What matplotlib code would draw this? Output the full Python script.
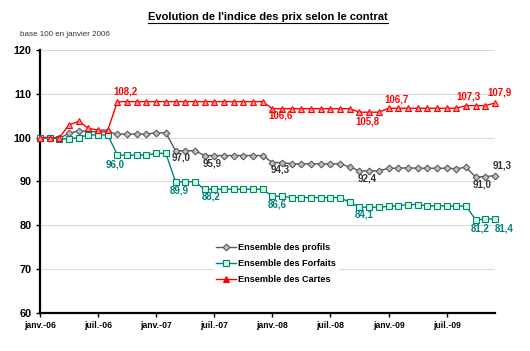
import matplotlib
matplotlib.use("Agg")
import matplotlib.pyplot as plt
from matplotlib.lines import Line2D
import numpy as np

plt.rcParams['font.family'] = ['Liberation Sans', 'DejaVu Sans']

# ---------------- data ----------------
tick_labels = ['janv.-06', 'juil.-06', 'janv.-07', 'juil.-07',
               'janv.-08', 'juil.-08', 'janv.-09', 'juil.-09']

profils = [100.0, 100.0, 99.8, 101.0, 101.5, 101.4, 101.3, 101.3,
           100.8, 100.8, 100.8, 100.8, 101.1, 101.1,
           97.0, 97.0, 97.0,
           95.9, 95.9, 95.9, 95.9, 95.9, 95.9, 95.9,
           94.3, 94.3,
           94.0, 94.0, 94.0, 94.0, 94.0, 94.0,
           93.3,
           92.4, 92.4, 92.4,
           93.0, 93.0, 93.1, 93.0, 93.0, 93.0, 93.0, 92.9, 93.2,
           91.0, 91.1, 91.3]

forfaits = [100.0, 100.0, 99.7, 99.7, 100.0, 100.6, 100.6, 100.6,
            96.0, 96.0, 96.0, 96.0, 96.4, 96.4,
            89.9, 89.9, 89.9,
            88.2, 88.2, 88.2, 88.2, 88.2, 88.2, 88.2,
            86.6, 86.6,
            86.3, 86.3, 86.3, 86.3, 86.3, 86.3,
            85.2,
            84.1, 84.1, 84.1,
            84.3, 84.4, 84.7, 84.7, 84.4, 84.4, 84.4, 84.3, 84.4,
            81.2, 81.4, 81.4]

cartes = [100.0, 100.0, 100.0, 102.9, 103.7, 102.1, 101.7, 101.7,
          108.2, 108.2, 108.2, 108.2, 108.2, 108.2, 108.2, 108.2,
          108.2, 108.2, 108.2, 108.2, 108.2, 108.2, 108.2, 108.2,
          106.6, 106.6, 106.6, 106.6, 106.6, 106.6, 106.6, 106.6, 106.6,
          105.8, 105.8, 105.8,
          106.7, 106.7, 106.7, 106.7, 106.7, 106.7, 106.7, 106.7,
          107.3, 107.3, 107.3,
          107.9]

series_names = ['Ensemble des profils', 'Ensemble des Forfaits', 'Ensemble des Cartes']

# labelled points: (series index, month index)
labelled = [(2, 8), (2, 24), (2, 33), (2, 36), (2, 44), (2, 47),
            (0, 14), (0, 17), (0, 24), (0, 33), (0, 45), (0, 47),
            (1, 8), (1, 14), (1, 17), (1, 24), (1, 33), (1, 45), (1, 47)]

# ---------------- styles ----------------
line_cols = ['#595959', '#008080', '#ff0000']
face_cols = ['#c0c0c0', '#ccffcc', '#ff9999']
markers = ['D', 's', '^']
msizes = [3.4, 4.8, 4.8]
label_cols = ['#333333', '#008080', '#ff0000']
# label offsets in pixels (dx, dy)
offsets = {(2, 8): (8, 10), (2, 24): (8, -7), (2, 33): (8, -9), (2, 36): (8, 9),
           (2, 44): (3, 9), (2, 47): (5, 10),
           (0, 14): (6, -7), (0, 17): (8, -8), (0, 24): (8, -7), (0, 33): (8, -8),
           (0, 45): (6, -8), (0, 47): (7, 10),
           (1, 8): (-2, -9), (1, 14): (4, -9), (1, 17): (7, -7), (1, 24): (5, -8),
           (1, 33): (5, -7), (1, 45): (5, -9), (1, 47): (9, -9)}

fig = plt.figure(figsize=(5.30, 3.51), dpi=100)
ax = fig.add_axes([40 / 530, 1 - 312.7 / 351, 455 / 530, 262.7 / 351])

data = [profils, forfaits, cartes]
x = np.arange(len(profils))
handles = []
for k in range(3):
    h, = ax.plot(x, data[k], color=line_cols[k], lw=1.0, marker=markers[k],
                 ms=msizes[k], mfc=face_cols[k], mec=line_cols[k], mew=0.8,
                 label=series_names[k], zorder=3 + k, clip_on=False)
    handles.append(h)

for (s, i) in labelled:
    v = data[s][i]
    dx, dy = offsets[(s, i)]
    ax.annotate(f"{v:.1f}".replace('.', ','), (x[i], v),
                xytext=(dx, dy), textcoords='offset pixels',
                ha='center', va='center', fontsize=7.0, fontweight='bold',
                color=label_cols[s], zorder=10)

ax.set_xlim(0, len(profils) - 1)
ax.set_ylim(60, 120)
ax.set_yticks(np.arange(60, 121, 10))
ax.set_xticks(np.arange(0, len(profils), 6))
ax.set_xticklabels(tick_labels)
ax.yaxis.grid(True, color='#d9d9d9', lw=0.8)
ax.set_axisbelow(True)
for sp in ['top', 'right']:
    ax.spines[sp].set_visible(False)
for sp in ['left', 'bottom']:
    ax.spines[sp].set_linewidth(1.6)
    ax.spines[sp].set_color('black')
ax.tick_params(axis='y', direction='out', length=3, width=1, labelsize=7.8, pad=3)
ax.tick_params(axis='x', direction='out', length=3, width=1, labelsize=6.2, pad=3)
for t in ax.get_yticklabels():
    t.set_fontweight('bold')
for t in ax.get_xticklabels():
    t.set_fontweight('bold')

leg = fig.legend(handles=handles, loc='upper left',
                 bbox_to_anchor=(209 / 530, 1 - 236 / 351),
                 frameon=True, fancybox=False, edgecolor='none', facecolor='white',
                 framealpha=1, prop={'size': 6.6, 'weight': 'bold'},
                 handlelength=2.1, handletextpad=0.3, labelspacing=0.75,
                 borderpad=0.3)
legend_h = leg.legend_handles if hasattr(leg, 'legend_handles') else leg.legendHandles
for k, lh in enumerate(legend_h):
    lh.set_markerfacecolor(line_cols[k] if k == 2 else face_cols[k])

title = fig.text(268 / 530, 1 - 17 / 351,
                 "Evolution de l'indice des prix selon le contrat",
                 ha='center', va='center', fontsize=8.0, fontweight='bold')
fig.text(20 / 530, 1 - 35 / 351, "base 100 en janvier 2006",
         ha='left', va='center', fontsize=5.8, color='#333333')

fig.canvas.draw()
r = fig.canvas.get_renderer()
bb = title.get_window_extent(r)
y_ul = bb.y0 - 1
fig.add_artist(Line2D([bb.x0 / fig.bbox.width, bb.x1 / fig.bbox.width],
                      [y_ul / fig.bbox.height, y_ul / fig.bbox.height],
                      transform=fig.transFigure, color='black', lw=0.8))

fig.savefig('out.png', dpi=100)
